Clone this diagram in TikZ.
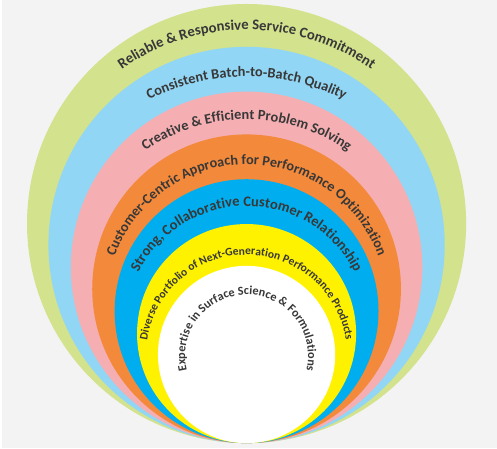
\documentclass[tikz,border=0pt]{standalone}
\usepackage{fontspec}
\setmainfont{Carlito}
\usepackage{tikz}
\usetikzlibrary{decorations.text}
\definecolor{bggray}{HTML}{F3F3F3}
\definecolor{ringgreen}{HTML}{D3E28D}
\definecolor{ringsky}{HTML}{92D6F5}
\definecolor{ringpink}{HTML}{F5AEB2}
\definecolor{ringorange}{HTML}{F3893A}
\definecolor{ringblue}{HTML}{00AEEF}
\definecolor{ringyellow}{HTML}{FFF200}
\definecolor{labelgray}{HTML}{383838}
\newcommand{\ringfont}[1]{\fontsize{#1}{#1}\selectfont\bfseries}
\tikzstyle{ring}     = [draw=none]
\tikzstyle{ringtext} = [decorate, decoration={text along path, text align=center, text color=labelgray}]

\begin{document}
\begin{tikzpicture}[x=0.02cm,y=0.02cm]
	\fill[bggray] (0,0) rectangle (497,450);

	\coordinate (cgreen)  at (245.5,225.5);
	\coordinate (csky)    at (245.5,204);
	\coordinate (cpink)   at (245.5,181.5);
	\coordinate (corange) at (245.5,160);
	\coordinate (cblue)   at (245.5,137.5);
	\coordinate (cyellow) at (245.5,115);
	\coordinate (cwhite)  at (245.5,94);

	\fill[ring, ringgreen]  (cgreen)  circle[radius=220.5];
	\fill[ring, ringsky]    (csky)    circle[radius=199];
	\fill[ring, ringpink]   (cpink)   circle[radius=176.5];
	\fill[ring, ringorange] (corange) circle[radius=155];
	\fill[ring, ringblue]   (cblue)   circle[radius=132.5];
	\fill[ring, ringyellow] (cyellow) circle[radius=110];
	\fill[ring, white]      (cwhite)  circle[radius=89];

	\coordinate (tgreen)  at (245.5,203);
	\coordinate (tsky)    at (245.5,155);
	\coordinate (tpink)   at (245.5,150);
	\coordinate (torange) at (245.5,144);
	\coordinate (tblue)   at (245.5,121.3);
	\coordinate (tyellow) at (245.5,93);
	\coordinate (twhite)  at (245.5,92.3);

	\path[ringtext, decoration={text={|\ringfont{8.4pt}|Reliable {\&} Responsive Service Commitment}}]
		(tgreen) ++(215:217) arc[start angle=215, end angle=-35, radius=217];
	\path[ringtext, decoration={text={|\ringfont{8.2pt}|Consistent Batch-to-Batch Quality}}]
		(tsky) ++(215:218) arc[start angle=215, end angle=-35, radius=218];
	\path[ringtext, decoration={text={|\ringfont{8.2pt}|Creative {\&} Efficient Problem Solving}}]
		(tpink) ++(215:180) arc[start angle=215, end angle=-35, radius=180];
	\path[ringtext, decoration={text={|\ringfont{8.1pt}|Customer-Centric Approach for Performance Optimization}}]
		(torange) ++(215:141) arc[start angle=215, end angle=-35, radius=141];
	\path[ringtext, decoration={text={|\ringfont{8.3pt}|Strong, Collaborative Customer Relationship}}]
		(tblue) ++(215:121.7) arc[start angle=215, end angle=-35, radius=121.7];
	\path[ringtext, decoration={text={|\ringfont{6.6pt}|Diverse Portfolio of Next-Generation Performance Products}}]
		(tyellow) ++(215:101) arc[start angle=215, end angle=-35, radius=101];
	\path[ringtext, decoration={text={|\ringfont{7pt}|Expertise in Surface Science {\&} Formulations}}]
		(twhite) ++(215:61.7) arc[start angle=215, end angle=-35, radius=61.7];
\end{tikzpicture}
\end{document}
